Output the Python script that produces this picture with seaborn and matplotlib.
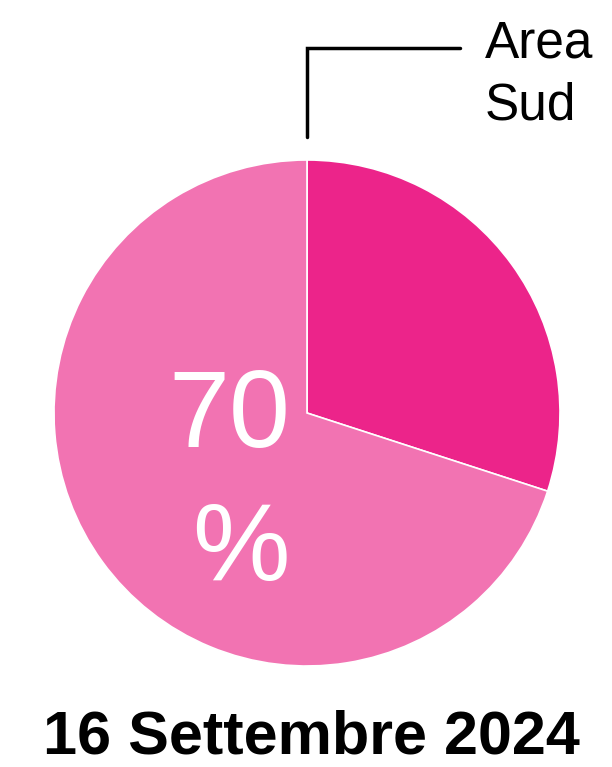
import matplotlib
matplotlib.use("Agg")
import matplotlib.pyplot as plt
import seaborn as sns

# dati
categories = ["Area Sud", "Resto"]
values = [30, 70]
colors = ["#EC248A", "#F273B2"]
title = "16 Settembre 2024"

sns.set_theme(style="white")
plt.rcParams['font.family'] = ['Liberation Sans', 'DejaVu Sans']

W, H = 612, 767
fig = plt.figure(figsize=(W / 100, H / 100), dpi=100)
ax = fig.add_axes([0, 0, 1, 1])

# torta: centro e raggio in pixel (asse y verso l'alto)
cx, cy, r = 307, H - 413, 253
ax.pie(values, colors=colors, startangle=90, counterclock=False,
       center=(cx, cy), radius=r,
       wedgeprops=dict(edgecolor="white", linewidth=1.2))
ax.set_xlim(0, W)
ax.set_ylim(0, H)
ax.set_aspect('auto')
ax.axis('off')

# etichetta della fetta grande (su due righe)
ax.text(229, H - 447, f"{values[1]}", color="white", fontsize=79,
        ha="center", va="baseline")
ax.text(241, H - 580, "%", color="white", fontsize=79,
        ha="center", va="baseline")

# linea guida verso l'etichetta della fetta piccola
ax.plot([cx, cx, 460], [H - 137, H - 48, H - 48], color="black", lw=2.5,
        solid_joinstyle="miter")
for i, word in enumerate(categories[0].split()):
    ax.text(485, H - 57 - 63 * i, word, color="black", fontsize=37,
            ha="left", va="baseline")

# titolo
ax.text(311, H - 753, title, color="black", fontsize=44, fontweight="bold",
        ha="center", va="baseline")

fig.savefig("out.png", dpi=100)
plt.close(fig)
